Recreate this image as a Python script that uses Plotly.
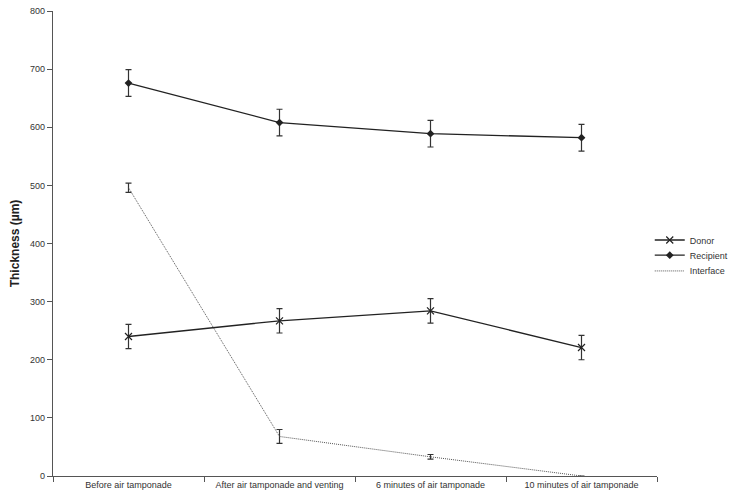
import plotly.graph_objects as go

categories = ["Before air tamponade", "After air tamponade and venting",
              "6 minutes of air tamponade", "10 minutes of air tamponade"]
donor = [240, 267, 284, 221]
donor_err = [21, 21, 21, 21]
recipient = [676, 608, 589, 582]
recipient_err = [23, 23, 23, 23]
interface = [496, 68, 33, 0]
interface_err = [8, 12, 4, 0]

font_family = "Liberation Sans, Arial, sans-serif"
line_col = "#222222"

fig = go.Figure()
fig.add_trace(go.Scatter(
    x=categories, y=donor, name="Donor", mode="lines+markers", legend="legend",
    line=dict(color=line_col, width=1.3),
    marker=dict(symbol="x-thin", size=7, line=dict(color=line_col, width=1.2)),
    error_y=dict(type="data", array=donor_err, color="#333333", thickness=1.2, width=3),
))
fig.add_trace(go.Scatter(
    x=categories, y=recipient, name="Recipient", mode="lines+markers", legend="legend2",
    line=dict(color=line_col, width=1.3),
    marker=dict(symbol="diamond", size=6, color=line_col),
    error_y=dict(type="data", array=recipient_err, color="#333333", thickness=1.2, width=3),
))
fig.add_trace(go.Scatter(
    x=categories, y=interface, name="Interface", mode="lines", legend="legend3",
    line=dict(color="#555555", width=1, dash="1px,1px"),
    error_y=dict(type="data", array=interface_err, color="#333333", thickness=1.2, width=3),
))

leg_common = dict(x=0.988, xanchor="left", yanchor="middle",
                  font=dict(size=9, color="#333333"), bgcolor="rgba(0,0,0,0)",
                  itemwidth=30)

fig.update_layout(
    width=760, height=503,
    margin=dict(l=53, r=103, t=11, b=27, autoexpand=False),
    plot_bgcolor="white", paper_bgcolor="white",
    font=dict(family=font_family, size=9, color="#333333"),
    showlegend=True,
    legend=dict(y=0.5075, **leg_common),
    legend2=dict(y=0.475, **leg_common),
    legend3=dict(y=0.441, **leg_common),
    xaxis=dict(
        type="category", range=[-0.5, 3.5], tickson="boundaries", automargin=False,
        ticks="outside", ticklen=5, tickcolor="#555555", tickwidth=1,
        showline=True, linecolor="#555555", linewidth=1.2,
        showgrid=False, zeroline=False,
        tickfont=dict(size=9, color="#333333"),
    ),
    yaxis=dict(
        range=[0, 800], dtick=100, automargin=False,
        ticks="outside", ticklen=5, tickcolor="#555555", tickwidth=1,
        showline=True, linecolor="#555555", linewidth=1.2,
        showgrid=False, zeroline=False,
        tickfont=dict(size=9, color="#333333"),
        title=dict(text="<b>Thickness (µm)</b>", font=dict(size=12, color="#222222"), standoff=7),
    ),
)

fig.write_html("out.html", config={"displayModeBar": False},
               post_script="document.body.style.margin='0px';")
